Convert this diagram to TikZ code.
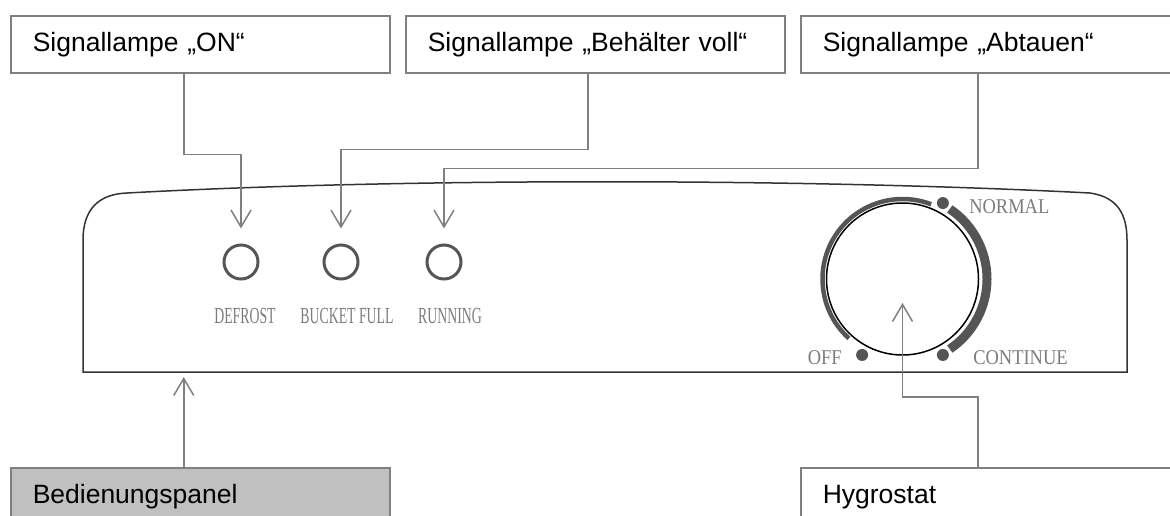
\documentclass[tikz,border=0pt]{standalone}
\usepackage{fontspec}
\setmainfont{Liberation Sans}
\newfontfamily\lampfont[FakeStretch=0.6]{Liberation Serif}
\newfontfamily\dialfont[FakeStretch=0.88]{Liberation Serif}
\usepackage{xcolor}
\usetikzlibrary{arrows.meta,positioning}

\definecolor{linegray}{HTML}{808080}
\definecolor{printgray}{HTML}{7C7C7C}
\definecolor{knobgray}{HTML}{555555}
\definecolor{panelline}{HTML}{333333}
\definecolor{panelfill}{HTML}{C0C0C0}

\begin{document}
\begin{tikzpicture}[x=1pt, y=1pt,
    labelbox/.style={draw=linegray, line width=1.5pt, anchor=north west,
      minimum height=57pt, text width=335pt, inner xsep=22pt, align=left,
      text height=19pt, text depth=5.5pt, font=\fontsize{26.5}{30}\selectfont},
    callout/.style={draw=linegray, line width=1.5pt,
      -{Straight Barb[length=17pt, width=20pt]}},
    lamp/.style={circle, draw=knobgray, line width=3pt, minimum size=34pt, inner sep=0pt},
    lamptext/.style={text=printgray, inner sep=0pt, font=\lampfont\fontsize{23}{23}\selectfont},
    dialtext/.style={text=printgray, inner sep=0pt, font=\dialfont\fontsize{21}{21}\selectfont},
    dot/.style={circle, fill=knobgray, minimum size=12pt, inner sep=0pt}]
    \useasboundingbox (0,0) rectangle (1170,-515);

    % callout boxes
    \node[labelbox] (on) at (10,-15) {\mbox{Signallampe „ON“}};
    \node[labelbox] (full) at (405,-15) {\mbox{Signallampe „Behälter voll“}};
    \node[labelbox] (thaw) at (800,-15) {\mbox{Signallampe „Abtauen“}};
    \node[labelbox, fill=panelfill] (bedien) at (10,-467) {Bedienungspanel};
    \node[labelbox] (hygro) at (800,-467) {Hygrostat};

    % control panel outline
    \coordinate (panel-base) at (83,-372);
    \draw[panelline, line width=1.5pt] (panel-base) -- (83,-240)
      .. controls (83,-208) and (100,-194) .. (127,-193)
      .. controls (400,-178) and (800,-178) .. (1090,-193)
      .. controls (1118,-197) and (1127,-215) .. (1127,-240)
      -- (1127,-372) -- cycle;

    % signal lamps
    \node[lamp] (defrost) at (241,-262) {};
    \node[lamp] (bucket) at (341,-262) {};
    \node[lamp] (running) at (444,-262) {};
    \node[lamptext, below=28pt of defrost, xshift=4pt] {DEFROST};
    \node[lamptext, below=28pt of bucket, xshift=6pt] {BUCKET FULL};
    \node[lamptext, below=28pt of running, xshift=6pt] {RUNNING};

    % hygrostat dial
    \node[circle, draw=black, line width=1.5pt, minimum size=152pt, inner sep=0pt] (dial) at (902.5,-279) {};
    \draw[knobgray, line width=4.5pt] (dial.center) ++(228:80) arc (228:69:80);
    \draw[knobgray, line width=9pt] (dial.center) ++(56:84.5) arc (56:-56:84.5);
    \node[dot] (normal) at ([shift={(62:86)}]dial.center) {};
    \node[dot] (cont) at ([shift={(-62:86)}]dial.center) {};
    \node[dot] (off) at ([shift={(242:86)}]dial.center) {};
    \node[dialtext, right=20pt of normal, yshift=-4pt] {NORMAL};
    \node[dialtext, right=24pt of cont, yshift=-3pt] {CONTINUE};
    \node[dialtext, left=14pt of off, yshift=-3pt] {OFF};

    % connectors
    \coordinate (on-out) at ([xshift=-16.5pt]on.south);
    \coordinate (full-out) at ([xshift=-7.5pt]full.south);
    \coordinate (thaw-out) at ([xshift=-12.5pt]thaw.south);
    \coordinate (bedien-out) at ([xshift=-16.5pt]bedien.north);
    \coordinate (hygro-out) at ([xshift=-12.5pt]hygro.north);
    \draw[callout, shorten >=15pt] (on-out) -- ++(0,-81) -| (defrost);
    \draw[callout, shorten >=15pt] (full-out) -- ++(0,-76) -| (bucket);
    \draw[callout, shorten >=15pt] (thaw-out) -- ++(0,-95) -| (running);
    \draw[callout, shorten >=5pt] (bedien-out) -- (bedien-out |- panel-base);
    \draw[callout, shorten >=24pt] (hygro-out) -- ++(0,70) -| (dial.center);
\end{tikzpicture}
\end{document}
